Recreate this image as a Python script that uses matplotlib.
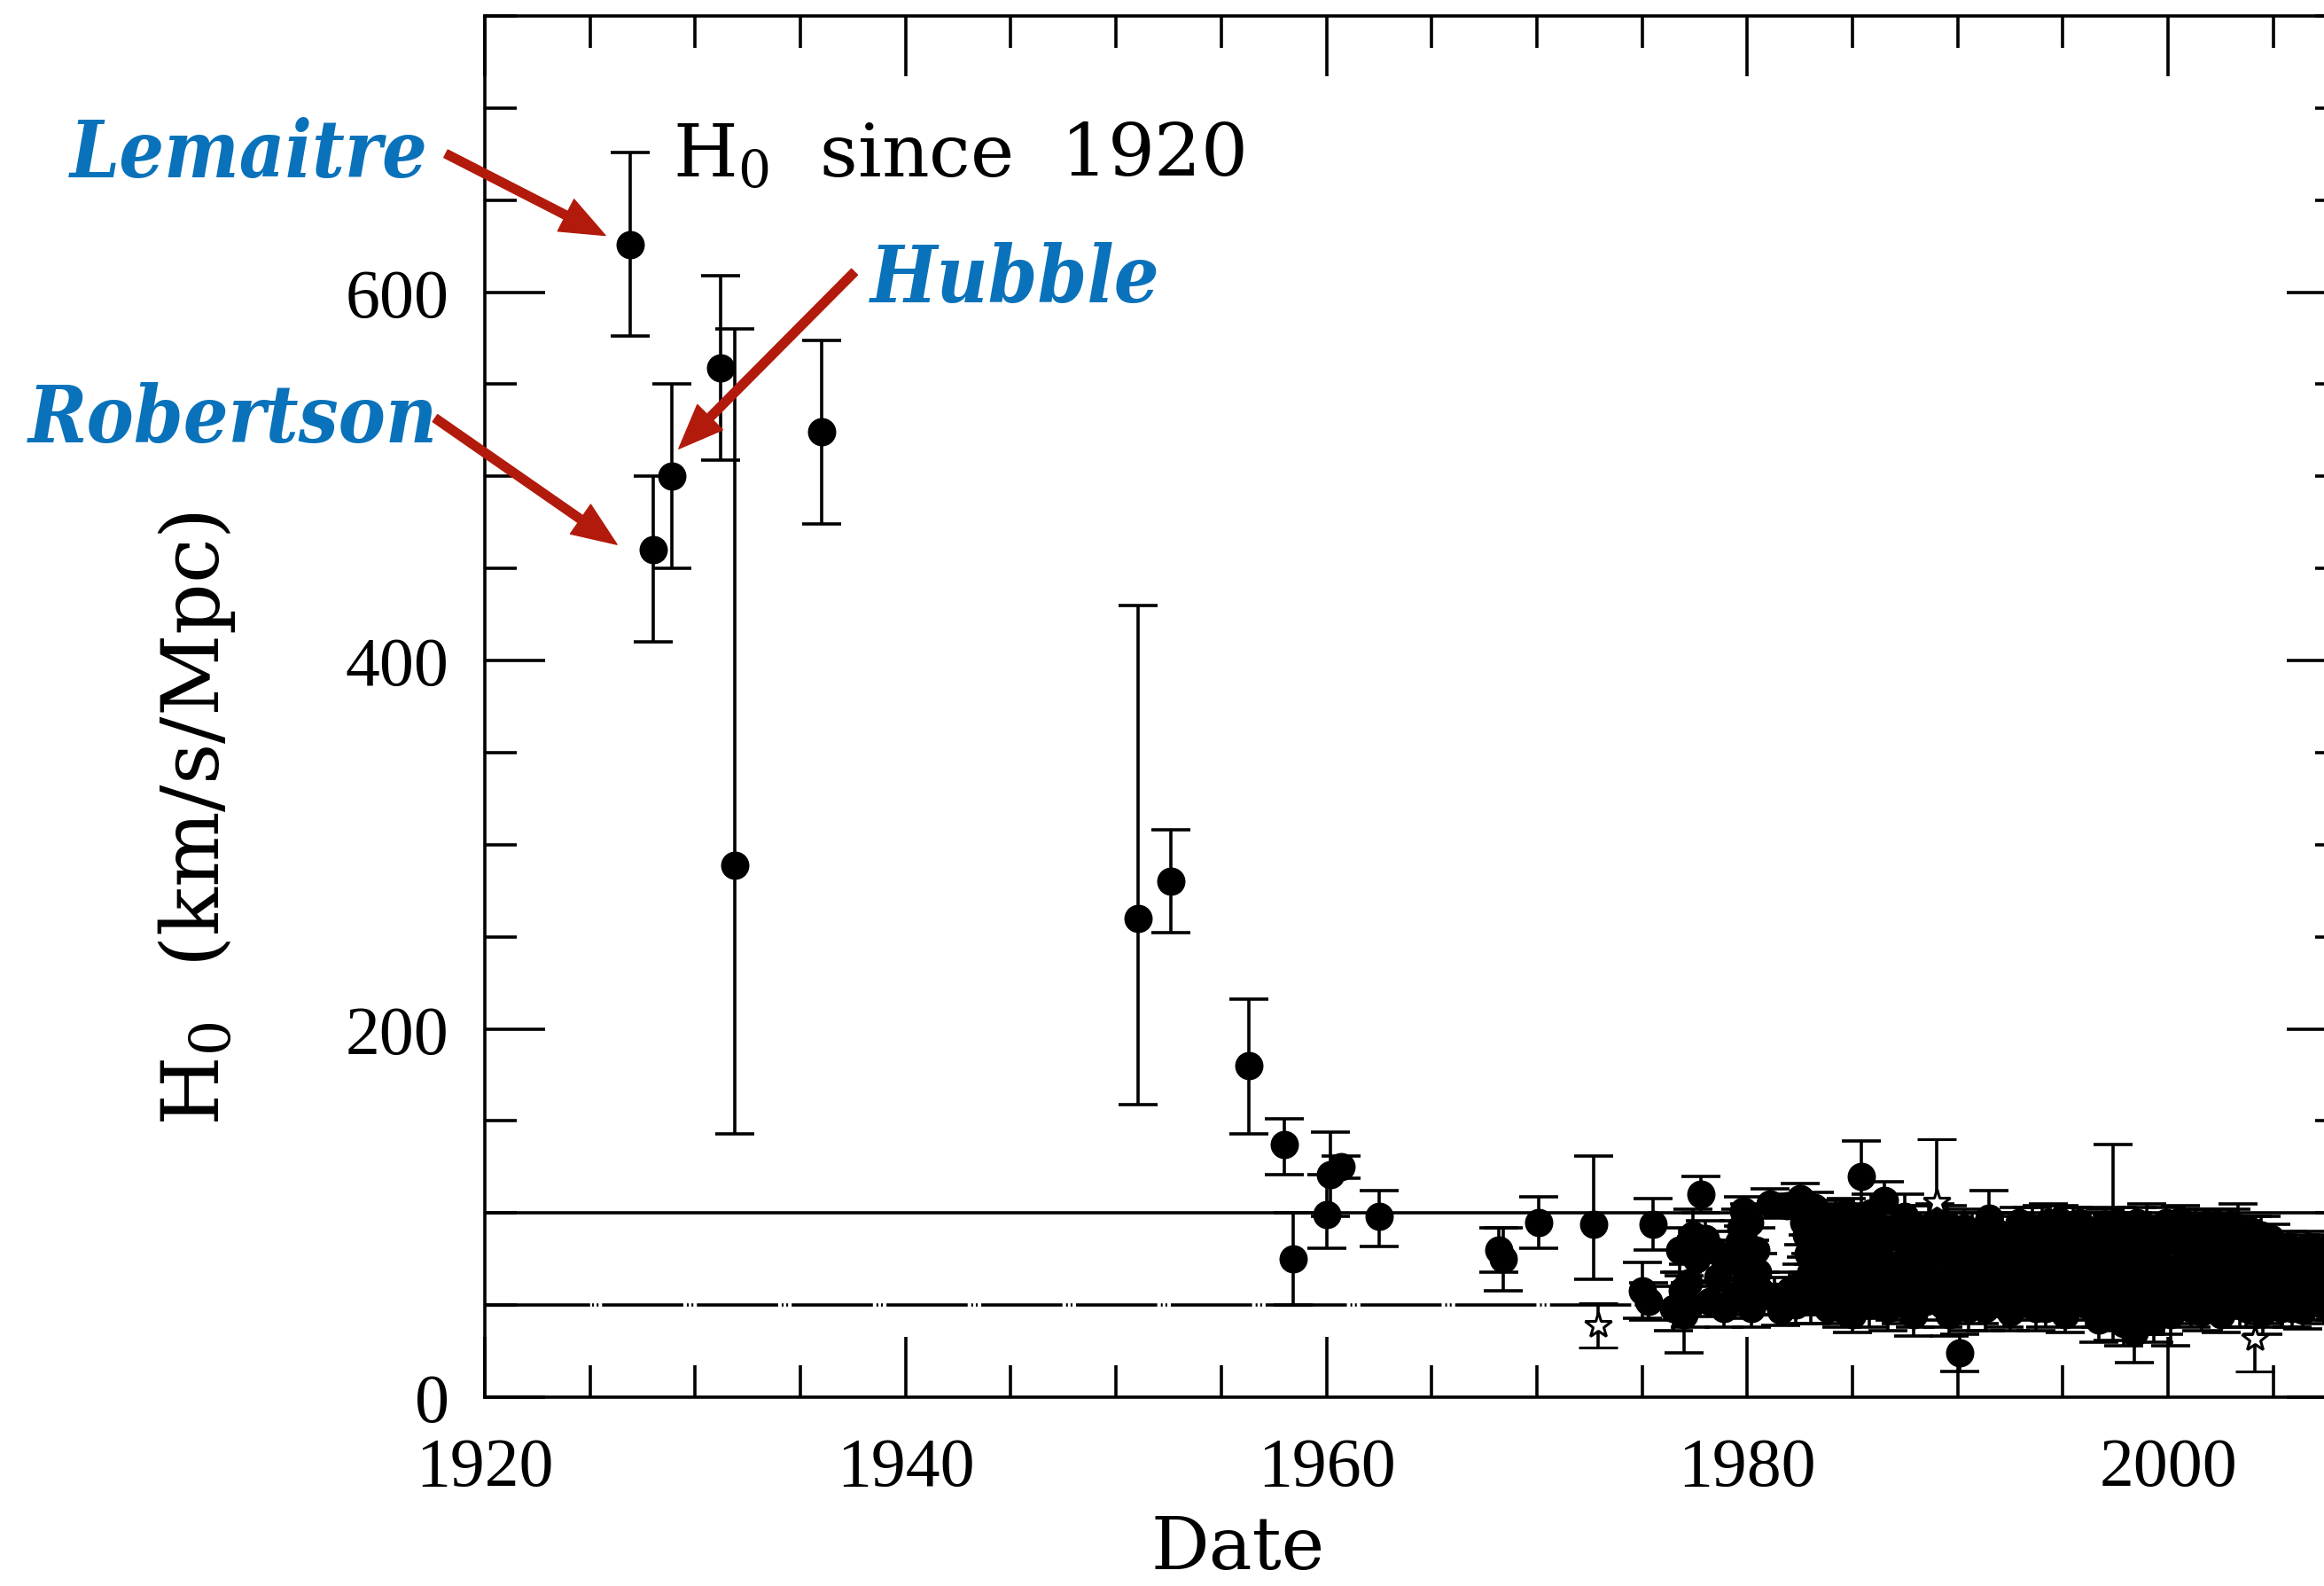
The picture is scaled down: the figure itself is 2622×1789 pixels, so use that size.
import matplotlib
matplotlib.use("Agg")
import matplotlib.pyplot as plt
from matplotlib.ticker import MultipleLocator

plt.rcParams['mathtext.fontset'] = 'dejavuserif'
plt.rcParams['lines.scale_dashes'] = False

# early determinations of H0 (asymmetric error bars)
early_year = [1926.9, 1928.0, 1928.9, 1931.2, 1931.9, 1936.0, 1951.05, 1952.6,
              1956.3, 1958.0, 1958.4, 1960.0, 1960.2, 1960.7, 1962.5,
              1968.2, 1968.4, 1970.1, 1972.7]
early_h = [626, 460, 500, 559, 289, 524, 260, 280,
           180, 137, 75, 99, 121, 125, 98,
           80, 75, 95, 94]
early_lo = [50, 50, 50, 50, 146, 50, 101, 28,
            37, 16, 25, 18, 23, 6, 16,
            12, 17, 14, 30]
early_hi = [50, 40, 50, 50, 291, 50, 170, 28,
            36, 14, 25, 22, 23, 6, 14,
            12, 17, 14, 37]

# the crowd of modern values, 1975 onwards (symmetric errors)
cloud_year = [1975.0, 1975.3, 1975.5, 1976.5, 1976.8, 1977.0, 1977.2, 1977.4, 1977.6, 1977.8,
              1978.0, 1978.2, 1978.6, 1978.9, 1979.2, 1979.4, 1979.6, 1979.8, 1979.9, 1980.1,
              1980.2, 1980.4, 1980.6,
              1981.1, 1981.3, 1981.6, 1981.9, 1982.0, 1982.3, 1982.5,
              1982.7, 1982.9, 1983.0, 1983.2, 1983.4, 1983.6, 1983.8, 1984.0, 1984.2, 1984.4,
              1984.6, 1984.8, 1985.0, 1985.2, 1985.4, 1985.5, 1985.7, 1985.9,
              1986.1, 1986.3, 1986.5, 1986.7, 1986.9, 1987.1, 1987.3, 1987.5, 1987.7, 1987.9,
              1988.1, 1988.3, 1988.5, 1988.7, 1988.9, 1989.2, 1989.4, 1989.6, 1989.8, 1990.1,
              1990.3, 1990.4, 1990.6,
              1990.9, 1991.1, 1991.3, 1991.5, 1991.7, 1991.9, 1992.1, 1992.3, 1992.5, 1992.7,
              1992.9, 1993.1, 1993.3, 1993.55, 1993.7, 1993.9, 1994.1, 1994.3, 1994.5, 1994.7,
              1994.9, 1995.1, 1995.3, 1995.5, 1995.7, 1995.9, 1996.1, 1996.3, 1996.5, 1996.7,
              1996.9,
              1997.1, 1997.3, 1997.4, 1997.6, 1997.7, 1997.9, 1998.1, 1998.3, 1998.4, 1998.6,
              1998.8, 1999.0, 1999.1, 1999.3, 1999.5, 1999.7, 1999.9, 2000.1, 2000.3, 2000.5,
              2000.7, 2000.9, 2001.1, 2001.3, 2001.5, 2001.7, 2001.9, 2002.1, 2002.3, 2002.5,
              2002.7, 2002.9, 2003.1, 2003.3, 2003.5, 2003.7, 2003.9, 2004.2, 2004.4, 2004.6,
              2004.8,
              2005.0, 2005.2, 2005.4, 2005.6, 2005.8, 2006.0, 2006.2, 2006.4, 2006.6, 2006.8,
              2007.0, 2007.2, 2007.4, 2007.6, 2007.8, 2008.1,
              # second pass through the same decades
              1976.9, 1977.3, 1978.4, 1979.7, 1980.0, 1980.3, 1980.5,
              1982.6, 1982.8, 1983.0, 1983.05, 1983.15, 1983.3, 1983.5, 1983.65, 1983.9,
              1984.05, 1984.3, 1984.5, 1984.7, 1984.9, 1985.1, 1985.3, 1985.6, 1985.8,
              1986.0, 1986.2, 1986.4, 1986.6, 1986.8, 1987.0, 1987.2, 1987.4, 1987.6, 1987.8,
              1988.0, 1988.2, 1988.4, 1988.6, 1988.8, 1989.0, 1989.3, 1989.5, 1989.7, 1989.9,
              1990.2, 1990.5, 1990.7, 1990.8, 1991.0, 1991.2, 1991.4, 1991.6, 1991.8,
              1992.0, 1992.2, 1992.4, 1992.6, 1992.8, 1993.0, 1993.2, 1993.4, 1993.6, 1993.8,
              1994.0, 1994.2, 1994.4, 1994.6, 1994.8, 1995.0, 1995.2, 1995.4, 1995.6, 1995.8,
              1996.0, 1996.2, 1996.4, 1996.6, 1996.8, 1997.0, 1997.2, 1997.5, 1997.8,
              1998.0, 1998.2, 1998.5, 1998.7, 1998.9, 1999.2, 1999.4, 1999.6, 1999.8,
              2000.0, 2000.2, 2000.4, 2000.6, 2000.8, 2001.0, 2001.2, 2001.4, 2001.6, 2001.8,
              2002.0, 2002.2, 2002.4, 2002.6, 2002.8, 2003.0, 2003.2, 2003.4, 2003.6, 2003.8,
              2004.0, 2004.3, 2004.5, 2004.7, 2004.9, 2005.1, 2005.3, 2005.5, 2005.7, 2005.9,
              2006.1, 2006.3, 2006.5, 2006.7, 2006.9, 2007.1, 2007.3, 2007.5, 2007.7, 2007.9,
              2008.2]
cloud_h = [58, 52, 94, 48, 80, 45, 62, 88, 75, 110,
           86, 52, 65, 48, 75, 55, 84, 101, 62, 95,
           48, 80, 58,
           105, 55, 47, 104, 58, 50, 108,
           95, 78, 52, 103, 66, 88, 48, 75, 97, 57,
           84, 68, 45, 92, 120, 72, 55, 100,
           82, 62, 107, 48, 90, 70, 55, 98, 80, 45,
           65, 88, 52, 75, 95, 60, 82, 45, 70, 24,
           92, 55, 77,
           62, 85, 48, 97, 70, 55, 88, 64, 46, 78,
           95, 57, 72, 92, 48, 82, 62, 95, 52, 75,
           88, 45, 68, 93, 58, 80, 50, 72, 90, 42,
           64,
           85, 55, 84, 95, 70, 40, 60, 88, 35, 75,
           50, 92, 65, 42, 80, 56, 95, 45, 70, 85,
           58, 76, 48, 92, 65, 80, 52, 72, 94, 45,
           62, 85, 55, 92, 70, 48, 80, 62, 88, 52,
           74,
           62, 80, 48, 70, 55, 78, 64, 47, 72, 57,
           80, 66, 50, 74, 60, 70,
           58, 50, 80, 92, 70, 55, 68,
           62, 88, 68, 78, 60, 92, 55, 70, 95,
           62, 86, 48, 100, 58, 80, 66, 88, 50,
           95, 74, 56, 86, 66, 52, 88, 72, 60, 94,
           50, 78, 68, 92, 58, 80, 50, 94, 62, 85,
           68, 48, 90, 72, 52, 66, 80, 58, 90,
           74, 50, 84, 68, 56, 88, 64, 80, 52, 70,
           92, 48, 76, 60, 96, 66, 84, 52, 76, 95,
           62, 86, 56, 78, 48, 94, 70, 62, 86,
           48, 76, 95, 62, 44, 84, 58, 72, 46,
           88, 60, 52, 96, 66, 84, 58, 74, 46, 94,
           62, 82, 68, 55, 76, 94, 64, 50, 84, 60,
           90, 72, 46, 64, 86, 56, 72, 60, 82, 48,
           68, 80, 58, 82, 66, 52, 76, 62, 82, 52,
           76]
cloud_err = [15, 10, 14, 12, 12, 21, 10, 14, 12, 10,
             10, 8, 12, 10, 10, 12, 12, 8, 12, 10,
             10, 12, 10,
             8, 10, 8, 6, 10, 10, 8,
             12, 10, 12, 8, 10, 12, 8, 10, 10, 12,
             10, 10, 10, 12, 19, 10, 12, 10,
             20, 15, 10, 12, 10, 12, 15, 12, 10, 12,
             15, 10, 10, 12, 10, 10, 12, 12, 15, 10,
             10, 10, 12,
             15, 10, 12, 15, 10, 10, 12, 10, 10, 12,
             8, 12, 10, 11, 12, 10, 15, 10, 10, 10,
             12, 10, 12, 10, 10, 12, 12, 15, 10, 12,
             10,
             10, 12, 53, 8, 10, 12, 10, 12, 16, 10,
             10, 13, 12, 12, 10, 12, 8, 17, 10, 10,
             10, 12, 10, 10, 12, 10, 10, 10, 8, 10,
             12, 10, 10, 13, 10, 10, 12, 10, 10, 12,
             10,
             10, 8, 10, 10, 8, 8, 10, 10, 8, 10,
             6, 8, 10, 8, 8, 8,
             10, 12, 10, 10, 12, 10, 10,
             10, 12, 10, 10, 12, 10, 10, 12, 10,
             10, 12, 10, 8, 10, 12, 10, 10, 12,
             10, 12, 10, 10, 12, 10, 10, 12, 10, 10,
             12, 10, 10, 12, 10, 10, 12, 10, 12, 10,
             10, 12, 10, 10, 12, 10, 10, 12, 10,
             10, 12, 10, 10, 12, 10, 10, 12, 10, 10,
             12, 10, 10, 12, 8, 10, 12, 10, 10, 8,
             12, 10, 10, 12, 10, 8, 10, 12, 10,
             12, 10, 8, 12, 10, 10, 12, 10, 12,
             10, 10, 12, 8, 10, 10, 12, 10, 10, 8,
             12, 10, 10, 12, 10, 8, 10, 12, 10, 10,
             8, 10, 12, 10, 8, 10, 8, 10, 8, 10,
             8, 8, 10, 8, 8, 10, 8, 8, 6, 10,
             8]

# values plotted with open star symbols
star_year = [1972.9, 1989.0, 2004.1]
star_h = [39, 106, 32]
star_err = [12, 34, 18]

names = ['Lemaitre', 'Hubble', 'Robertson']
name_pos = [(1900.3, 662.7), (1938.3, 595.2), (1898.3, 519.0)]
arrow_tail = [(1918.15, 675.2), (1937.57, 611.0), (1917.64, 531.6)]
arrow_tip = [(1925.73, 630.8), (1929.22, 515.0), (1926.28, 463.0)]

BLUE = '#0A72BA'
RED = '#B21A0C'
LW = 2.6

fig = plt.figure(figsize=(26.22, 17.90), dpi=100)
ax = fig.add_axes([0.2086, 0.1190, 0.8013, 0.8704])

eb = dict(color='k', ecolor='k', elinewidth=LW, capsize=15.5, capthick=LW, ls='none')
ax.errorbar(early_year, early_h, yerr=[early_lo, early_hi], fmt='o', ms=22, **eb)
ax.errorbar(cloud_year, cloud_h, yerr=cloud_err, fmt='o', ms=22, **eb)
ax.errorbar(star_year, star_h, yerr=star_err, fmt='*', ms=22, mfc='white',
            mec='k', mew=2.2, zorder=4, **eb)

# reference levels at 100 and 50
ax.axhline(100, color='k', lw=LW, zorder=1)
ax.plot([1920, 1924.91], [50, 50], color='k', lw=LW, zorder=1)
ax.plot([1924.91, 2008.5], [50, 50], color='k', lw=LW, zorder=1,
        linestyle=(66, (66, 2.9, 1.5, 2.2, 1.5, 2.9)))

ax.set_xlim(1920, 2008.5)
ax.set_ylim(0, 750)
ax.xaxis.set_major_locator(MultipleLocator(20))
ax.xaxis.set_minor_locator(MultipleLocator(5))
ax.yaxis.set_major_locator(MultipleLocator(200))
ax.yaxis.set_minor_locator(MultipleLocator(50))
ax.tick_params(which='both', direction='in', top=True, right=True, width=LW)
ax.tick_params(which='major', length=49)
ax.tick_params(axis='x', which='major', pad=32)
ax.tick_params(axis='y', which='major', pad=29)
ax.tick_params(which='minor', length=26)
for lab in ax.get_xticklabels() + ax.get_yticklabels():
    lab.set_fontfamily('Liberation Serif')
    lab.set_fontsize(56)
for s in ax.spines.values():
    s.set_linewidth(LW)

fig.text(222 / 2622, 1 - 924 / 1790, r'H$_0$  (km/s/Mpc)', rotation=90,
         ha='center', va='center', fontsize=65, family='DejaVu Serif')
fig.text(1397 / 2622, 20 / 1790, 'Date', ha='center', va='baseline',
         fontsize=59, family='DejaVu Serif')
ax.text(1928.93, 662.7, r'H$_0$  since  1920', ha='left', va='baseline',
        fontsize=60, family='DejaVu Serif')

for name, pos, tail, tip in zip(names, name_pos, arrow_tail, arrow_tip):
    ax.text(pos[0], pos[1], name, ha='left', va='baseline', color=BLUE,
            fontsize=64, family='DejaVu Serif', style='italic', weight='bold',
            fontstretch='condensed')
    ax.annotate('', xy=tip, xytext=tail, annotation_clip=False,
                arrowprops=dict(facecolor=RED, edgecolor=RED, width=7,
                                headwidth=29, headlength=36, shrink=0))

fig.savefig('out.png', dpi=100)
